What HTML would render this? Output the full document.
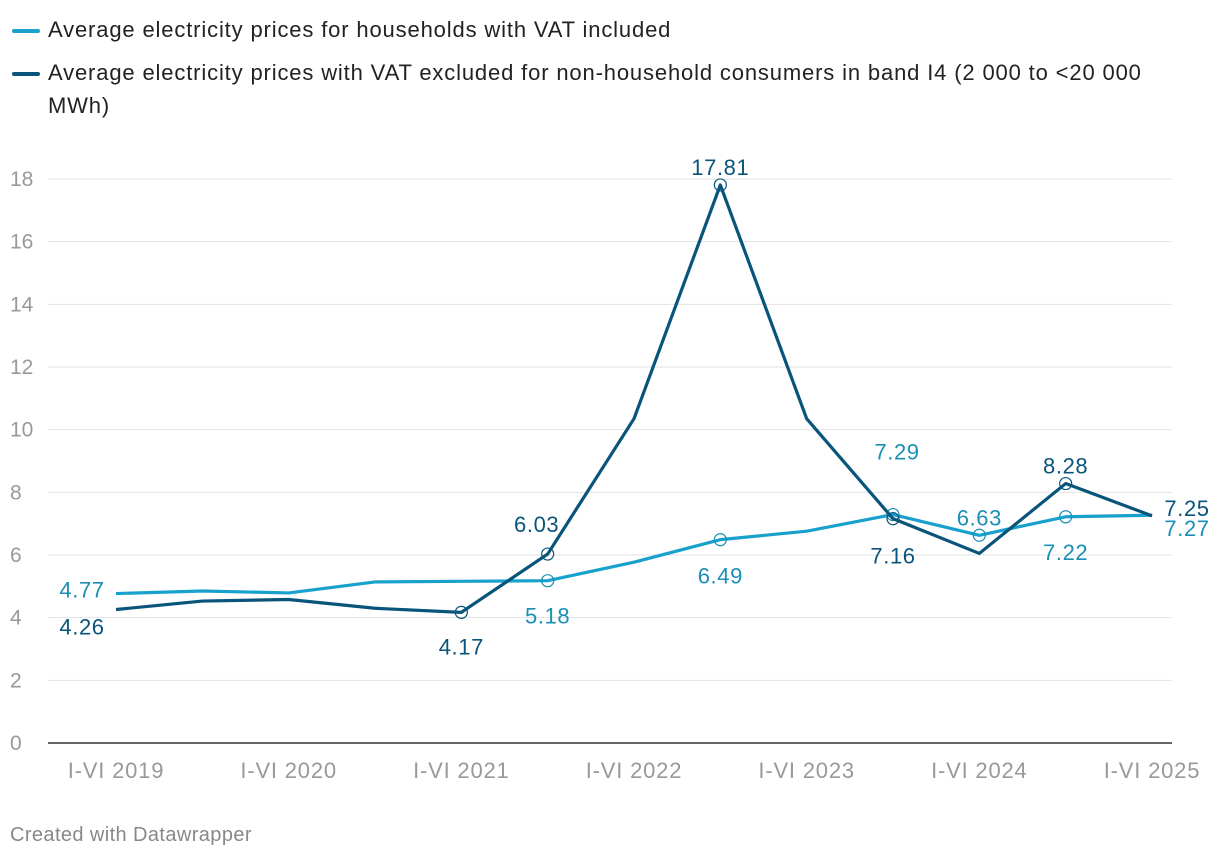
<!DOCTYPE html>
<html><head><meta charset="utf-8"><style>
body{margin:0;background:#fff;font-family:"Liberation Sans",sans-serif;}
#wrap{position:relative;width:1220px;height:860px;overflow:hidden;}
.leg{position:absolute;left:12px;font-size:22px;letter-spacing:0.85px;color:#222;line-height:33px;}
.sw{position:absolute;left:12px;width:28px;height:4px;border-radius:2px;}
</style></head><body>
<div id="wrap">
<div class="sw" style="top:29px;background:#18a1cd"></div>
<div class="leg" style="top:13px;left:48px">Average electricity prices for households with VAT included</div>
<div class="sw" style="top:72px;background:#09547a"></div>
<div class="leg" style="top:56px;left:48px;width:1110px">Average electricity prices with VAT excluded for non-household consumers in band I4 (2 000 to &lt;20 000 MWh)</div>
<svg id="svg" width="1220" height="860" style="position:absolute;left:0;top:0"></svg>
<div style="position:absolute;left:10px;top:824px;font-size:20px;letter-spacing:0.4px;color:#888">Created with Datawrapper</div>
</div>
<script>
const categories=["I-VI 2019","VII-XII 2019","I-VI 2020","VII-XII 2020","I-VI 2021","VII-XII 2021","I-VI 2022","VII-XII 2022","I-VI 2023","VII-XII 2023","I-VI 2024","VII-XII 2024","I-VI 2025"];
const households=[4.77,4.85,4.79,5.14,5.16,5.18,5.77,6.49,6.76,7.29,6.63,7.22,7.27];
const nonHouseholds=[4.26,4.53,4.58,4.30,4.17,6.03,10.35,17.81,10.35,7.16,6.05,8.28,7.25];
const yTicks=[0,2,4,6,8,10,12,14,16,18];
const xTickIdx=[0,2,4,6,8,10,12];
const hLabels=[0,5,7,9,10,11,12];
const nLabels=[0,4,5,7,9,11,12];
const hOff={0:[-34,-4],5:[0,35],7:[0,36],9:[4,-63],10:[0,-18],11:[0,35],12:[35,13]};
const nOff={0:[-34,17],4:[0,34],5:[-11,-30],7:[0,-18],9:[0,37],11:[0,-18],12:[35,-8]};
const svg=document.getElementById('svg');const NS='http://www.w3.org/2000/svg';
const x=i=>116+i*(1152-116)/12, y=v=>743-v*(743-179)/18;
function mk(t,a,p){const e=document.createElementNS(NS,t);for(const k in a)e.setAttribute(k,a[k]);(p||svg).appendChild(e);return e;}
yTicks.forEach(v=>{
 const l=mk('line',{x1:48,x2:1172,y1:y(v),y2:y(v),stroke:v?'#e2e2e2':'#333','stroke-width':v?1:1.5});
 
 
 const t=mk('text',{x:10,y:y(v)+7,'font-size':21,fill:'#999'});t.textContent=v;
 
 
});
xTickIdx.forEach(i=>{
 const t=mk('text',{x:x(i),y:778,'font-size':22,'letter-spacing':0.8,fill:'#999','text-anchor':'middle'});t.textContent=categories[i];
 
 
});
function series(vals,col,tcol,labs,off,name){
 const p=mk('polyline',{points:vals.map((v,i)=>x(i)+','+y(v)).join(' '),fill:'none',stroke:col,'stroke-width':3.2,'stroke-linejoin':'round'});
 
 
 labs.forEach(i=>{
  if(i!==12&&i!==0){const c=mk('circle',{cx:x(i),cy:y(vals[i]),r:6,fill:'none',stroke:tcol,'stroke-width':1.2});
  
  }
  const o=off[i];const t=mk('text',{x:x(i)+o[0],y:y(vals[i])+o[1]+8,'font-size':22,'letter-spacing':0.6,fill:tcol,'text-anchor':'middle'});
  t.textContent=vals[i].toFixed(2);
  
  
 });
}
series(households,'#18a1cd','#1a8fb5',hLabels,hOff,'households');
series(nonHouseholds,'#09547a','#09547a',nLabels,nOff,'non-households');
</script>
</body></html>
